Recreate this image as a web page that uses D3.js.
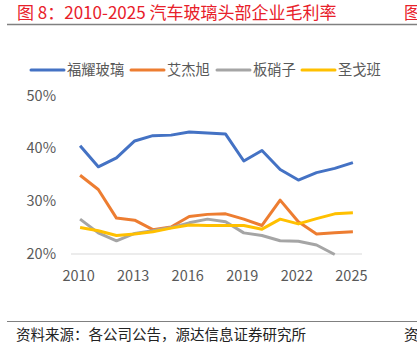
<!DOCTYPE html>
<html>
<head>
<meta charset="utf-8">
<script src="https://cdn.jsdelivr.net/npm/d3@7"></script>
<style>
  body { margin: 0; background: #fff; }
  svg { display: block; font-family: "Noto Sans CJK SC", "Noto Sans", sans-serif; }
</style>
</head>
<body>
<div id="chart"></div>
<script>
// years on the category axis
let years = d3.range(2010, 2026).map(String);

// gross margin, %
let fuyao = [40.5, 36.5, 38.2, 41.4, 42.4, 42.5, 43.1, 42.9, 42.7, 37.6, 39.6, 36.0, 34.0, 35.4, 36.2, 37.3];
let agc = [34.9, 32.2, 26.8, 26.4, 24.6, 25.1, 27.1, 27.5, 27.6, 26.6, 25.4, 30.2, 26.1, 23.8, 24.0, 24.2];
let nsg = [26.6, 24.0, 22.5, 23.9, 24.4, 25.0, 25.9, 26.6, 26.1, 24.0, 23.5, 22.5, 22.4, 21.7, 19.9, null];
let saintGobain = [25.0, 24.4, 23.5, 23.8, 24.2, 24.9, 25.5, 25.4, 25.4, 25.4, 24.7, 26.6, 25.7, 26.7, 27.6, 27.8];

let seriesNames = ['福耀玻璃', '艾杰旭', '板硝子', '圣戈班'];
let yTicks = [20, 30, 40, 50];
let xTicks = ['2010', '2013', '2016', '2019', '2022', '2025'];

let colors = ['#4472C4', '#ED7D31', '#A5A5A5', '#FFC000'];
let series = [fuyao, agc, nsg, saintGobain];

let width = 417, height = 353;

let $svg = d3.select('#chart').append('svg')
  .attr('width', width)
  .attr('height', height);

// title
$svg.append('text')
  .attr('x', 17)
  .attr('y', 13.5)
  .attr('dy', '0.35em')
  .attr('fill', '#E8202A')
  .style('font-size', '17px')
  .text('图 8：2010-2025 汽车玻璃头部企业毛利率');

// neighbouring panel's title, cut by the edge as in the source
$svg.append('text')
  .attr('x', 404)
  .attr('y', 13.5)
  .attr('dy', '0.35em')
  .attr('fill', '#E8202A')
  .style('font-size', '17px')
  .text('图');

$svg.append('line')
  .attr('x1', 7).attr('x2', width)
  .attr('y1', 24.5).attr('y2', 24.5)
  .attr('stroke', '#808080')
  .attr('stroke-width', 1.5);

// scales
let x = d3.scaleBand()
  .domain(years)
  .range([71, 362]);

let y = d3.scaleLinear()
  .domain([20, 50])
  .range([254, 95.5]);

// y labels
$svg.append('g')
  .selectAll('text')
  .data(yTicks)
  .enter()
  .append('text')
  .attr('x', 56)
  .attr('y', d => y(d))
  .attr('dy', '0.35em')
  .attr('text-anchor', 'end')
  .attr('fill', '#595959')
  .style('font-size', '14.5px')
  .text(d => d + '%');

// baseline
$svg.append('line')
  .attr('x1', x.range()[0]).attr('x2', x.range()[1])
  .attr('y1', y(20)).attr('y2', y(20))
  .attr('stroke', '#D9D9D9')
  .attr('stroke-width', 1);

// x labels
$svg.append('g')
  .selectAll('text')
  .data(xTicks)
  .enter()
  .append('text')
  .attr('x', d => x(d) + x.bandwidth() / 2 - 1.5)
  .attr('y', 276)
  .attr('dy', '0.35em')
  .attr('text-anchor', 'middle')
  .attr('fill', '#595959')
  .style('font-size', '14.5px')
  .text(d => d);

// lines
let line = d3.line()
  .defined(d => d != null)
  .x((d, i) => x(years[i]) + x.bandwidth() / 2)
  .y(d => y(d));

$svg.append('g')
  .selectAll('path')
  .data(series)
  .enter()
  .append('path')
  .attr('d', line)
  .attr('fill', 'none')
  .attr('stroke', (d, i) => colors[i])
  .attr('stroke-width', 3)
  .attr('stroke-linejoin', 'round');

// legend
let legendX = [31, 131, 217, 302];
let $legend = $svg.append('g')
  .selectAll('g')
  .data(seriesNames)
  .enter()
  .append('g')
  .attr('transform', (d, i) => `translate(${legendX[i]},70)`);

$legend.append('line')
  .attr('x1', 0).attr('x2', 33)
  .attr('stroke', (d, i) => colors[i])
  .attr('stroke-width', 3)
  .attr('stroke-linecap', 'round');

$legend.append('text')
  .attr('x', 36)
  .attr('dy', '0.35em')
  .attr('fill', '#595959')
  .style('font-size', '14.3px')
  .text(d => d);

// footer
$svg.append('line')
  .attr('x1', 7).attr('x2', width)
  .attr('y1', 321.5).attr('y2', 321.5)
  .attr('stroke', '#808080')
  .attr('stroke-width', 1.2);

$svg.append('text')
  .attr('x', 16)
  .attr('y', 335)
  .attr('dy', '0.35em')
  .attr('fill', '#222')
  .style('font-size', '14.5px')
  .text('资料来源：各公司公告，源达信息证券研究所');

$svg.append('text')
  .attr('x', 404)
  .attr('y', 335)
  .attr('dy', '0.35em')
  .attr('fill', '#222')
  .style('font-size', '14.5px')
  .text('资');
</script>
</body>
</html>
